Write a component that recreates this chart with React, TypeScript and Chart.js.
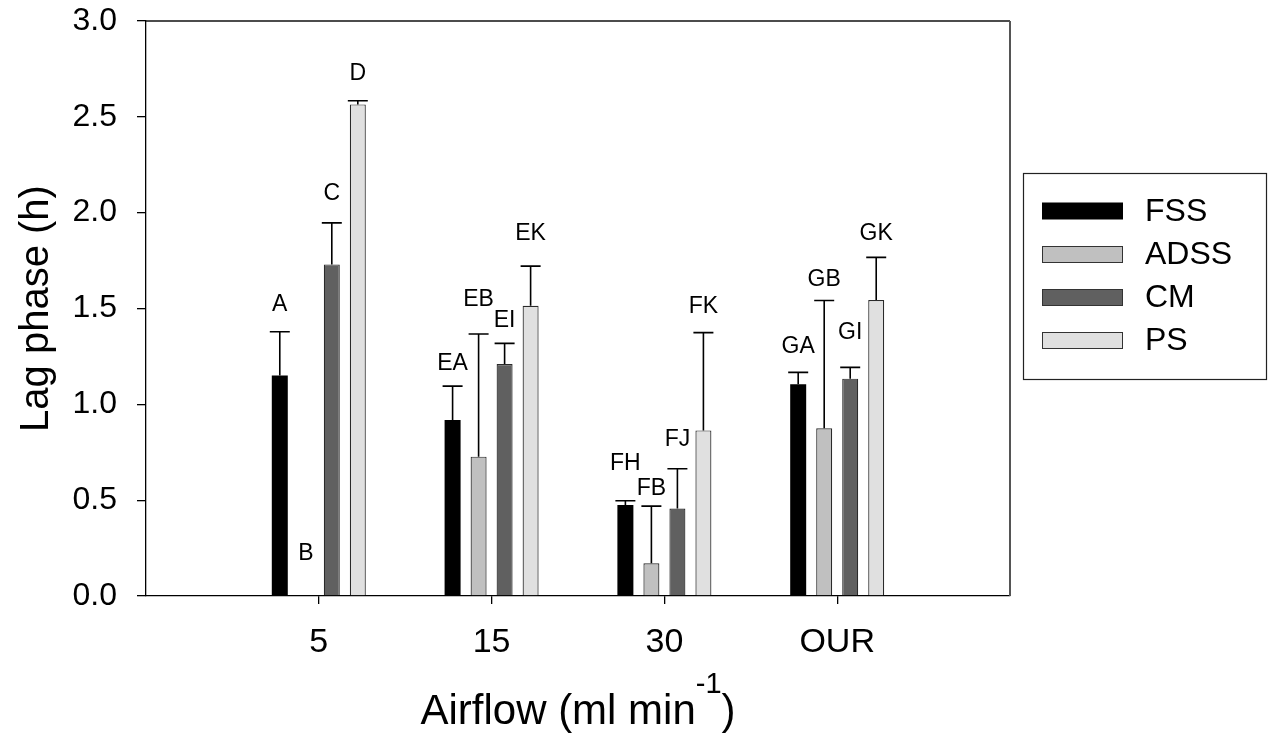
import React, { useEffect, useRef } from 'react';
import { Chart, registerables } from 'chart.js';

Chart.register(...registerables);

const categories = ['5', '15', '30', 'OUR'];
const seriesNames = ['FSS', 'ADSS', 'CM', 'PS'];
const seriesColors = ['#000000', '#c0c0c0', '#606060', '#e0e0e0'];

const fssValues = [1.15, 0.918, 0.475, 1.105];
const adssValues = [0, 0.727, 0.171, 0.875];
const cmValues = [1.73, 1.21, 0.456, 1.134];
const psValues = [2.565, 1.514, 0.864, 1.544];

const fssErrors = [0.229, 0.177, 0.022, 0.062];
const adssErrors = [0, 0.64, 0.298, 0.667];
const cmErrors = [0.217, 0.108, 0.208, 0.059];
const psErrors = [0.019, 0.207, 0.51, 0.223];

const fssLetters = ['A', 'EA', 'FH', 'GA'];
const adssLetters = ['B', 'EB', 'FB', 'GB'];
const cmLetters = ['C', 'EI', 'FJ', 'GI'];
const psLetters = ['D', 'EK', 'FK', 'GK'];

const fssLetterY = [1.52, 1.214, 0.689, 1.3];
const adssLetterY = [0.223, 1.544, 0.562, 1.648];
const cmLetterY = [2.1, 1.436, 0.817, 1.374];
const psLetterY = [2.723, 1.892, 1.509, 1.892];

const yTicks = [0, 0.5, 1.0, 1.5, 2.0, 2.5, 3.0];
const yTitle = 'Lag phase (h)';
const xTitleMain = 'Airflow (ml min';
const xTitleSup = '-1';
const xTitleEnd = ')';

const FONT = '"Liberation Sans", Arial, Helvetica, sans-serif';

const allValues = [fssValues, adssValues, cmValues, psValues];
const allErrors = [fssErrors, adssErrors, cmErrors, psErrors];
const allLetters = [fssLetters, adssLetters, cmLetters, psLetters];
const allLetterY = [fssLetterY, adssLetterY, cmLetterY, psLetterY];

// padded axis: one empty slot before and after the categories
const axisLabels = ['', ...categories, ''];

const extrasPlugin = {
  id: 'extras',
  afterDatasetsDraw(chart: any) {
    const ctx = chart.ctx;
    const yScale = chart.scales.y;
    const area = chart.chartArea;
    ctx.save();
    // frame (top + right)
    ctx.strokeStyle = '#111';
    ctx.lineWidth = 1.3;
    ctx.beginPath();
    ctx.moveTo(area.left, area.top);
    ctx.lineTo(area.right, area.top);
    ctx.stroke();
    ctx.strokeStyle = '#555';
    ctx.lineWidth = 2;
    ctx.beginPath();
    ctx.moveTo(area.right, area.top);
    ctx.lineTo(area.right, area.bottom);
    ctx.stroke();

    // error bars and letters
    chart.data.datasets.forEach((ds: any, di: number) => {
      const meta = chart.getDatasetMeta(di);
      meta.data.forEach((el: any, i: number) => {
        const catIdx = i - 1;
        if (catIdx < 0 || catIdx >= categories.length) return;
        const v = allValues[di][catIdx];
        const e = allErrors[di][catIdx];
        const x = el.x;
        if (e > 0) {
          const yTop = yScale.getPixelForValue(v + e);
          const yBar = yScale.getPixelForValue(v);
          ctx.strokeStyle = '#000';
          ctx.lineWidth = 1.6;
          ctx.beginPath();
          ctx.moveTo(x, yBar);
          ctx.lineTo(x, yTop);
          ctx.moveTo(x - 10, yTop);
          ctx.lineTo(x + 10, yTop);
          ctx.stroke();
        }
        const ly = yScale.getPixelForValue(allLetterY[di][catIdx]);
        ctx.fillStyle = '#000';
        ctx.font = `23px ${FONT}`;
        ctx.textAlign = 'center';
        ctx.textBaseline = 'middle';
        ctx.fillText(allLetters[di][catIdx], x, ly);
      });
    });
    ctx.restore();
  },
  afterDraw(chart: any) {
    const ctx = chart.ctx;
    const area = chart.chartArea;
    ctx.save();
    // y title
    ctx.fillStyle = '#000';
    ctx.font = `40px ${FONT}`;
    ctx.textAlign = 'center';
    ctx.textBaseline = 'alphabetic';
    ctx.translate(48, (area.top + area.bottom) / 2);
    ctx.rotate(-Math.PI / 2);
    ctx.fillText(yTitle, 0, 0);
    ctx.restore();

    // x title with superscript
    ctx.save();
    ctx.fillStyle = '#000';
    const mainFont = `42px ${FONT}`;
    const supFont = `29px ${FONT}`;
    ctx.font = mainFont;
    const w1 = ctx.measureText(xTitleMain).width;
    const w3 = ctx.measureText(xTitleEnd).width;
    ctx.font = supFont;
    const w2 = ctx.measureText(xTitleSup).width;
    const total = w1 + w2 + w3;
    const cx = (area.left + area.right) / 2;
    let x = cx - total / 2;
    const base = 724;
    ctx.textAlign = 'left';
    ctx.textBaseline = 'alphabetic';
    ctx.font = mainFont;
    ctx.fillText(xTitleMain, x, base);
    x += w1;
    ctx.font = supFont;
    ctx.fillText(xTitleSup, x, base - 31);
    x += w2;
    ctx.font = mainFont;
    ctx.fillText(xTitleEnd, x, base);
    ctx.restore();

    // legend
    ctx.save();
    ctx.strokeStyle = '#222';
    ctx.lineWidth = 1.2;
    ctx.strokeRect(1023.5, 173.5, 243, 206);
    const rowY = [211, 254.5, 297.5, 340.5];
    chart.data.datasets.forEach((ds: any, i: number) => {
      const y = rowY[i];
      ctx.fillStyle = ds.backgroundColor;
      ctx.fillRect(1042, y - 8.5, 81, 17);
      if (i > 0) {
        ctx.strokeStyle = '#333';
        ctx.lineWidth = 1;
        ctx.strokeRect(1042.5, y - 8, 80, 16);
      }
      ctx.fillStyle = '#000';
      ctx.font = `32px ${FONT}`;
      ctx.textAlign = 'left';
      ctx.textBaseline = 'middle';
      ctx.fillText(ds.label, 1145, y + 1);
    });
    ctx.restore();
  },
};

export default function App() {
  const canvasRef = useRef<HTMLCanvasElement | null>(null);

  useEffect(() => {
    document.body.style.margin = '0';
    const canvas = canvasRef.current;
    if (!canvas) return;
    const datasets = seriesNames.map((name, i) => ({
      label: name,
      data: [null, ...allValues[i], null],
      backgroundColor: seriesColors[i],
      borderColor: i === 0 ? '#000' : '#2a2a2a',
      borderWidth: (c: any) => (c.raw === 0 ? 0 : i === 0 ? 0 : 1.2),
      barPercentage: 0.615,
      categoryPercentage: 0.602,
    }));
    const chart = new Chart(canvas, {
      type: 'bar',
      data: { labels: axisLabels, datasets: datasets as any },
      options: {
        animation: false,
        responsive: false,
        maintainAspectRatio: false,
        layout: { padding: { top: 21, right: 266, left: 0, bottom: 0 } },
        plugins: { legend: { display: false }, tooltip: { enabled: false } },
        scales: {
          x: {
            type: 'category',
            offset: false,
            grid: {
              offset: false,
              drawOnChartArea: false,
              drawTicks: true,
              tickLength: 8,
              lineWidth: 1.3,
              color: (c: any) =>
                c.index === 0 || c.index === axisLabels.length - 1 ? 'rgba(0,0,0,0)' : '#000',
            },
            border: { display: true, color: '#000', width: 1.3 },
            ticks: {
              color: '#000',
              font: { family: FONT, size: 34 },
              padding: 18,
              maxRotation: 0,
              autoSkip: false,
            },
            afterFit: (s: any) => {
              s.height = 152;
              s.paddingLeft = 0;
              s.paddingRight = 0;
            },
          },
          y: {
            min: 0,
            max: 3,
            afterBuildTicks: (s: any) => {
              s.ticks = yTicks.map((v) => ({ value: v }));
            },
            grid: {
              drawOnChartArea: false,
              drawTicks: true,
              tickLength: 9,
              lineWidth: 1.3,
              color: '#000',
            },
            border: { display: true, color: '#000', width: 1.3 },
            ticks: {
              color: '#000',
              font: { family: FONT, size: 32 },
              padding: 20,
              callback: (v: any) => Number(v).toFixed(1),
            },
            afterFit: (s: any) => {
              s.width = 146;
              s.paddingTop = 0;
              s.paddingBottom = 0;
            },
          },
        },
      },
      plugins: [extrasPlugin],
    });
    return () => chart.destroy();
  }, []);

  return (
    <div style={{ width: 1276, height: 748, background: '#fff' }}>
      <canvas ref={canvasRef} width={1276} height={748} style={{ display: 'block' }} />
    </div>
  );
}
